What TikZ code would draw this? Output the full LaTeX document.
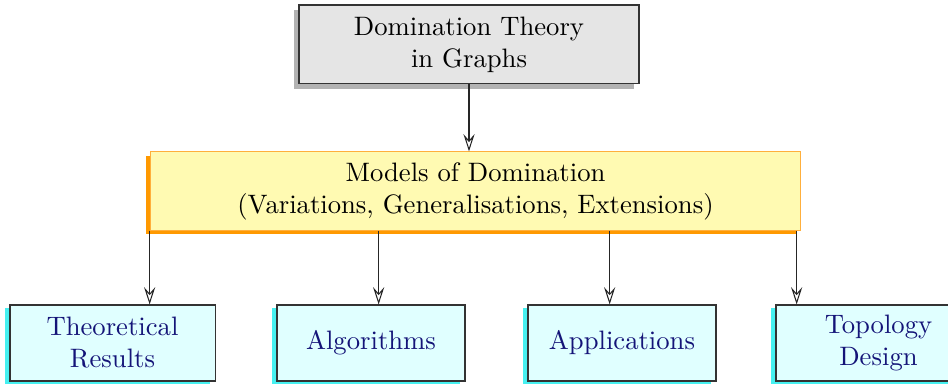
\documentclass[tikz,border=0pt]{standalone}
\usepackage{tikz}
\usetikzlibrary{calc,shadows,arrows.meta}
\definecolor{shadeorange}{RGB}{255,153,0}
\definecolor{lineorange}{RGB}{255,175,60}
\definecolor{textnavy}{RGB}{20,20,120}
\definecolor{paleyellow}{RGB}{255,250,178}
\definecolor{palecyan}{RGB}{224,255,255}
\definecolor{shadecyan}{RGB}{70,240,240}

\tikzset{
  topbox/.style={draw=black!80, fill=gray!20, align=center,
    minimum width=127.5pt, minimum height=29.6pt,
    general shadow={shadow xshift=-1.9pt, shadow yshift=-1.9pt, fill=gray!60}},
  modelbox/.style={draw=lineorange, fill=paleyellow, align=center,
    minimum width=244pt, minimum height=29.3pt,
    general shadow={shadow xshift=-1.6pt, shadow yshift=-1.6pt, fill=shadeorange}},
  areabox/.style={draw=black!80, fill=palecyan, text=textnavy, align=center,
    minimum width=70.5pt, minimum height=28.5pt,
    general shadow={shadow xshift=-1.8pt, shadow yshift=-1.2pt, fill=shadecyan}},
  arr/.style={draw=black!85, -{Stealth[open,length=6.5pt,width=4.2pt,inset=2.4pt]}}
}

\begin{document}
\begin{tikzpicture}[x=0.375pt,y=-0.375pt]
  \useasboundingbox (0,0) rectangle (948,384);

  %% Top and middle boxes
  \node[topbox] (DOMTH) at (469,44.5) {Domination Theory\\ in Graphs};
  \node[modelbox] (MODELS) at (475.5,191) {Models of Domination\\ (Variations, Generalisations, Extensions)};

  %% Boxes of the bottom row
  \node[areabox, minimum width=76.9pt] (THEORY) at (112.5,343) {Theoretical\\ Results};
  \node[areabox] (ALGO) at (371,343) {Algorithms};
  \node[areabox] (APPL) at (622,343) {Applications};
  \node[areabox, minimum width=76.9pt] (TOPO) at (878.5,343) {Topology\\ Design};

  %% Arrows
  \draw[arr] (DOMTH.south) -- (DOMTH.south |- MODELS.north);
  \foreach \dx/\target in {0/THEORY,229/ALGO,460/APPL,647/TOPO}
  {
    \path (MODELS.south west) ++(\dx,0) coordinate (M\target);
    \draw[arr] (M\target) -- (M\target |- \target.north);
  }
\end{tikzpicture}
\end{document}
